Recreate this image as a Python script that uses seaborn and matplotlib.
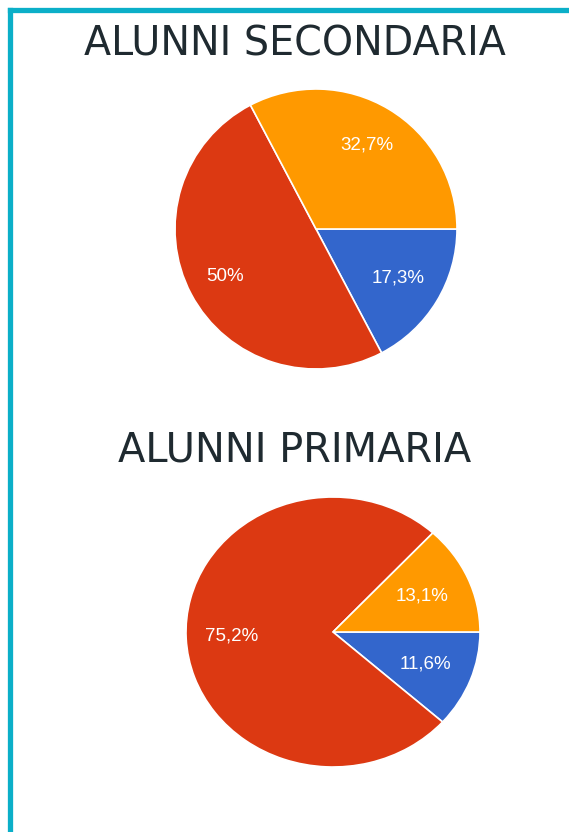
import numpy as np
import matplotlib
matplotlib.use("Agg")
import matplotlib.pyplot as plt
import seaborn as sns
from matplotlib.lines import Line2D

# Data (order as drawn: clockwise from 3 o'clock)
slices = ["gruppo 1", "gruppo 2", "gruppo 3"]
secondaria_pct = [17.3, 50.0, 32.7]
primaria_pct = [11.6, 75.2, 13.1]
secondaria_labels = ["17,3%", "50%", "32,7%"]
primaria_labels = ["11,6%", "75,2%", "13,1%"]
titles = ["ALUNNI SECONDARIA", "ALUNNI PRIMARIA"]

sns.set_style("white")
plt.rcParams["font.family"] = ["DejaVu Sans"]

colors = sns.color_palette(["#3366CC", "#DC3912", "#FF9900"])

W, H = 569, 832
fig = plt.figure(figsize=(W / 100, H / 100), dpi=100)
fig.patch.set_facecolor("white")


def px_axes(cx, cy, rx, ry):
    # axes box in pixel coords of the picture
    return fig.add_axes([(cx - rx) / W, (H - cy - ry) / H, 2 * rx / W, 2 * ry / H])


def draw_pie(ax, values, labels, dists):
    wedges, texts = ax.pie(values, colors=colors, startangle=0, counterclock=False,
                           labels=labels, labeldistance=0.7,
                           wedgeprops=dict(edgecolor="white", linewidth=1.2))
    for t, d in zip(texts, dists):
        x, y = t.get_position()
        t.set_position((x * d / 0.7, y * d / 0.7))
        t.set_ha("center")
        t.set_va("center")
        t.set_color("white")
        t.set_fontsize(13.5)
        t.set_fontfamily(["Liberation Sans", "DejaVu Sans"])
    ax.set_aspect("auto")
    ax.set_xlim(-1, 1)
    ax.set_ylim(-1, 1)
    ax.axis("off")


ax1 = px_axes(316, 229, 141, 140)
draw_pie(ax1, secondaria_pct, secondaria_labels, [0.68, 0.73, 0.70])

ax2 = px_axes(333, 632, 147, 135)
draw_pie(ax2, primaria_pct, primaria_labels, [0.67, 0.69, 0.66])

# Titles
fig.text(295 / W, 1 - 56 / H, titles[0], ha="center", va="baseline",
         fontsize=28.5, color="#1f2a30")
fig.text(295 / W, 1 - 462 / H, titles[1], ha="center", va="baseline",
         fontsize=28.8, color="#1f2a30")

# Frame lines (top and left)
frame_col = "#0BAFC8"
fig.add_artist(Line2D([9.5 / W, 1], [1 - 9.5 / H, 1 - 9.5 / H], color=frame_col,
                      linewidth=3.8, transform=fig.transFigure, solid_capstyle="projecting"))
fig.add_artist(Line2D([9.5 / W, 9.5 / W], [0, 1 - 9.5 / H], color=frame_col,
                      linewidth=3.8, transform=fig.transFigure, solid_capstyle="projecting"))

fig.savefig("out.png", dpi=100, facecolor="white")
